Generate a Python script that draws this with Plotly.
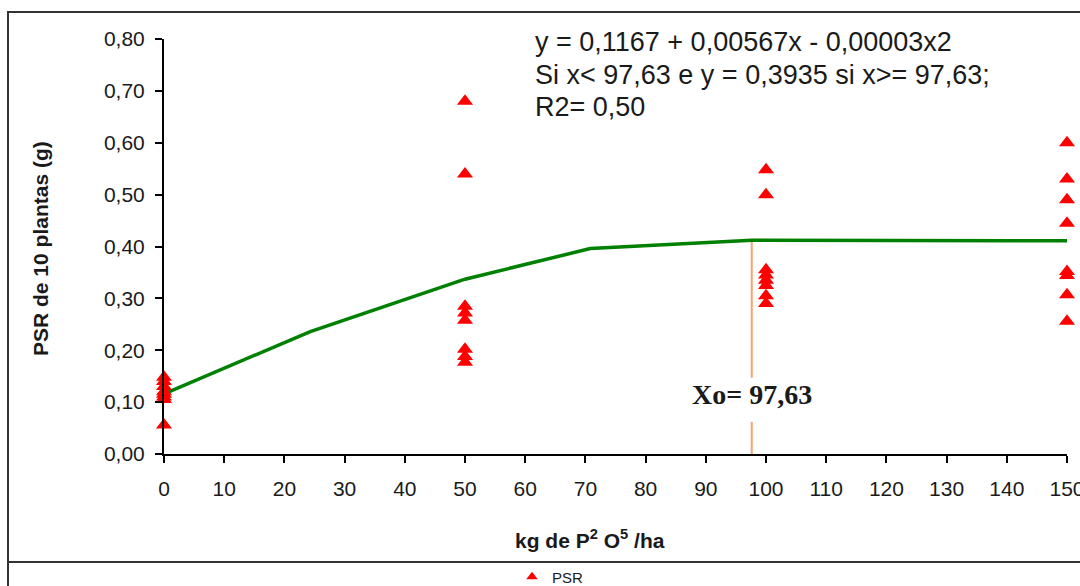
import plotly.graph_objects as go

# ---- data ----
dose_0 = [0.148, 0.140, 0.130, 0.120, 0.115, 0.110, 0.105, 0.056]
dose_50 = [0.680, 0.540, 0.285, 0.272, 0.258, 0.202, 0.188, 0.177]
dose_100 = [0.548, 0.500, 0.355, 0.345, 0.335, 0.325, 0.305, 0.290]
dose_150 = [0.600, 0.530, 0.490, 0.445, 0.352, 0.344, 0.307, 0.256]
doses = [0, 50, 100, 150]

fit_x = [0, 24.3, 50, 70.8, 97.63, 150]
fit_y = [0.116, 0.236, 0.337, 0.396, 0.412, 0.411]

xo = 97.63
xo_line_y = [0.410, 0.147, None, 0.062, 0.0]

y_ticks = [0.0, 0.1, 0.2, 0.3, 0.4, 0.5, 0.6, 0.7, 0.8]
y_ticktext = ["0,00", "0,10", "0,20", "0,30", "0,40", "0,50", "0,60", "0,70", "0,80"]
x_ticks = list(range(0, 151, 10))
x_ticktext = [str(v) for v in x_ticks]

eq_lines = [
    "y = 0,1167 + 0,00567x - 0,00003x2",
    "Si x< 97,63 e y = 0,3935 si x>= 97,63;",
    "R2= 0,50",
]

# ---- build ----
px_x, px_y = [], []
for d, vals in zip(doses, [dose_0, dose_50, dose_100, dose_150]):
    px_x += [d] * len(vals)
    px_y += vals

W, H = 1080, 586
L, R, T, B = 164, 13, 39, 132
pw, ph = W - L - R, H - T - B


def pxx(p):
    return (p - L) / pw


def pxy(p):
    return (H - B - p) / ph


fig = go.Figure()

fig.add_trace(go.Scatter(
    x=[xo] * len(xo_line_y), y=xo_line_y, mode="lines",
    line=dict(color="#FF9F6A", width=2), showlegend=False, hoverinfo="skip",
    connectgaps=False, cliponaxis=False))

fig.add_trace(go.Scatter(
    x=fit_x, y=fit_y, mode="lines",
    line=dict(color="#008000", width=3.5), showlegend=False, cliponaxis=False))

fig.add_trace(go.Scatter(
    x=px_x, y=px_y, mode="markers", name="PSR",
    marker=dict(symbol="triangle-up", size=14, color="#FF0000"),
    showlegend=False, cliponaxis=False))

# legend entry (smaller symbol like the original)
fig.add_trace(go.Scatter(
    x=[None], y=[None], mode="markers", name="PSR",
    marker=dict(symbol="triangle-up", size=10, color="#FF0000"),
    showlegend=True))

annotations = []
for i, (txt, yc) in enumerate(zip(eq_lines, [42, 75, 107])):
    annotations.append(dict(
        xref="paper", yref="paper", x=pxx(533), y=pxy(yc),
        xanchor="left", yanchor="middle", showarrow=False, text=txt,
        font=dict(family="Liberation Sans, Arial", size=27, color="#1a1a1a")))

annotations.append(dict(
    xref="x", yref="y", x=xo, y=0.114, xanchor="center", yanchor="middle",
    showarrow=False, text="<b>Xo= 97,63</b>",
    font=dict(family="Liberation Serif, Times New Roman", size=28, color="#1a1a1a")))

annotations.append(dict(
    xref="paper", yref="paper", x=pxx(590), y=pxy(539),
    xanchor="center", yanchor="middle", showarrow=False,
    text="<b>kg de P<sup>2</sup> O<sup>5</sup> /ha</b>",
    font=dict(family="Liberation Sans, Arial", size=21, color="#1a1a1a")))

annotations.append(dict(
    xref="paper", yref="paper", x=pxx(40), y=pxy(249),
    xanchor="center", yanchor="middle", showarrow=False, textangle=-90,
    text="<b>PSR de 10 plantas (g)</b>",
    font=dict(family="Liberation Sans, Arial", size=21, color="#1a1a1a")))

shapes = [
    dict(type="rect", xref="paper", yref="paper",
         x0=pxx(8), x1=pxx(1090), y0=pxy(600), y1=pxy(12),
         line=dict(color="#333333", width=2), layer="below"),
    dict(type="line", xref="paper", yref="paper",
         x0=pxx(8), x1=pxx(1090), y0=pxy(562), y1=pxy(562),
         line=dict(color="#333333", width=2)),
]

fig.update_layout(
    width=W, height=H, autosize=False,
    margin=dict(l=L, r=R, t=T, b=B, autoexpand=False),
    paper_bgcolor="white", plot_bgcolor="white",
    font=dict(family="Liberation Sans, Arial", color="#1a1a1a"),
    annotations=annotations, shapes=shapes,
    showlegend=True,
    legend=dict(orientation="h", x=pxx(512), y=pxy(577), xanchor="left",
                yanchor="middle", font=dict(size=15, color="#1a1a1a"),
                itemwidth=30, bgcolor="rgba(0,0,0,0)"),
)

fig.update_xaxes(
    range=[0, 150], tickvals=x_ticks, ticktext=x_ticktext,
    showline=True, linecolor="black", linewidth=2,
    ticks="outside", ticklen=7, tickwidth=2, tickcolor="black",
    showgrid=False, zeroline=False, ticklabelstandoff=8,
    ticklabeloverflow="allow",
    tickfont=dict(size=21, color="#1a1a1a"))

fig.update_yaxes(
    range=[0, 0.8], tickvals=y_ticks, ticktext=y_ticktext,
    showline=True, linecolor="black", linewidth=2,
    ticks="outside", ticklen=7, tickwidth=2, tickcolor="black",
    showgrid=False, zeroline=False, ticklabelstandoff=6,
    tickfont=dict(size=21, color="#1a1a1a"))

fig.write_html("out.html")
